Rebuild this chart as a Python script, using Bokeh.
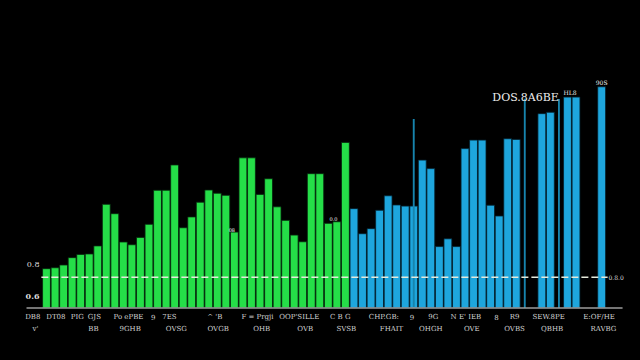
from bokeh.plotting import figure
from bokeh.models import Range1d, GlobalInlineStyleSheet
from bokeh.core.properties import value
from bokeh.embed import file_html
from bokeh.resources import INLINE

# ---- data ----
green_slots = list(range(36))
green_values = [17.1, 17.5, 18.7, 21.9, 23.3, 23.5, 27.0, 45.1, 41.0, 28.7, 27.5, 30.7,
                36.4, 51.2, 51.2, 62.2, 34.9, 39.6, 46.0, 51.3, 49.9, 49.0, 33.0, 65.3,
                65.3, 49.4, 56.2, 44.0, 38.1, 31.7, 28.8, 58.4, 58.4, 36.8, 37.5, 72.0]

blue_slots = list(range(36, 56)) + [58, 59, 61, 62, 65]
blue_values = [43.2, 32.3, 34.5, 42.5, 48.8, 44.8, 44.3, 44.3, 64.3, 60.6, 26.7, 30.1,
               26.7, 69.3, 73.0, 73.0, 44.7, 40.0, 73.6, 73.3, 84.5, 85.1, 91.7, 91.7, 96.2]

spike_slots = [43, 56, 60]
spike_values = [82.2, 91.0, 90.9]

threshold = 13.4
threshold_label = "0.8.0"

tick_row1_x = [-1.6, 1.1, 3.6, 5.6, 9.6, 12.5, 14.4, 19.7, 24.7, 29.6, 34.4, 39.5,
               42.8, 45.3, 49.1, 52.7, 54.8, 58.8, 64.7]
tick_row1 = ["DB8", "DT08", "PIG", "GJS", "Po ePBE", "9", "7ES", "^ 'B", "F = Prgji",
             "OOP'SILLE", "C B G", "CHP.GB:", "9", "9G", "N E' IEB", "8", "R9",
             "SEW.8PE", "E:OF/HE"]
tick_row2_x = [-1.3, 5.5, 9.8, 15.2, 20.1, 25.2, 30.3, 35.1, 40.4, 45.0, 49.8, 54.8, 59.2, 65.2]
tick_row2 = ["v'", "BB", "9GHB", "OVSG", "OVGB", "OHB", "OVB", "SVSB", "FHAIT", "OHGH",
             "OVE", "OVBS", "QBHB", "RAVBG"]

y_tick_values = [18.9, 5.0]
y_tick_labels = ["0.8", "0.6"]
y_tick_styles = ["normal", "bold"]

note_x = [56.1, 61.3, 65.0, 21.7, 33.6]
note_y = [91.5, 93.9, 98.0, 34.1, 38.5]
note_text = ["DOS.8A6BE", "HL8", "90S", "08", "0.0"]
note_size = ["11px", "6px", "6px", "5px", "5px"]

# ---- figure ----
p = figure(width=640, height=360, output_backend="svg", toolbar_location=None,
           x_range=Range1d(-5.386, 69.55), y_range=Range1d(-22.83, 133.7),
           min_border=0, background_fill_color="black", border_fill_color="black")
p.axis.visible = False
p.grid.visible = False
p.outline_line_color = None
p.stylesheets = [GlobalInlineStyleSheet(css="body{background:#000;}")]

p.vbar(x=green_slots, top=green_values, bottom=0, width=0.92,
       fill_color="#25de48", line_color="#06240c", line_width=0.8)
p.vbar(x=blue_slots, top=blue_values, bottom=0, width=0.92,
       fill_color="#1ea6dd", line_color="#04202c", line_width=0.8)
p.vbar(x=spike_slots, top=spike_values, bottom=0, width=0.22,
       fill_color="#1784ad", line_color=None)

# baseline
p.line(x=[-2.34, 67.45], y=[0, 0], line_color="#9c9c9c", line_width=1.5)
# threshold dashed line
p.line(x=[-0.6, 65.7], y=[threshold, threshold], line_color="#e6eadc",
       line_width=1.5, line_dash="7 3")
p.text(x=[65.8], y=[threshold], text=[threshold_label], text_font=value("DejaVu Serif"),
       text_font_size="6px", text_color="#dddddd", text_baseline="middle", text_align="left")

# y labels
for yy, tt, st in zip(y_tick_values, y_tick_labels, y_tick_styles):
    p.text(x=[-0.82], y=[yy], text=[tt],
           text_font=value("DejaVu Serif"), text_font_size="8px", text_color="#dddddd",
           text_font_style=st, text_baseline="middle", text_align="right")

# x tick labels (two rows)
p.text(x=tick_row1_x, y=[-4.1] * len(tick_row1_x), text=tick_row1,
       text_font=value("DejaVu Serif"), text_font_size="7px", text_color="#d2d2d2",
       text_baseline="middle", text_align="center")
p.text(x=tick_row2_x, y=[-9.35] * len(tick_row2_x), text=tick_row2,
       text_font=value("DejaVu Serif"), text_font_size="7px", text_color="#d2d2d2",
       text_baseline="middle", text_align="center")

# annotations
for xx, yy, tt, ss in zip(note_x, note_y, note_text, note_size):
    p.text(x=[xx], y=[yy], text=[tt], text_font=value("DejaVu Serif"),
           text_font_size=ss, text_color="#eeeeee", text_baseline="middle",
           text_align="center")

open("out.html", "w").write(file_html(p, INLINE))
